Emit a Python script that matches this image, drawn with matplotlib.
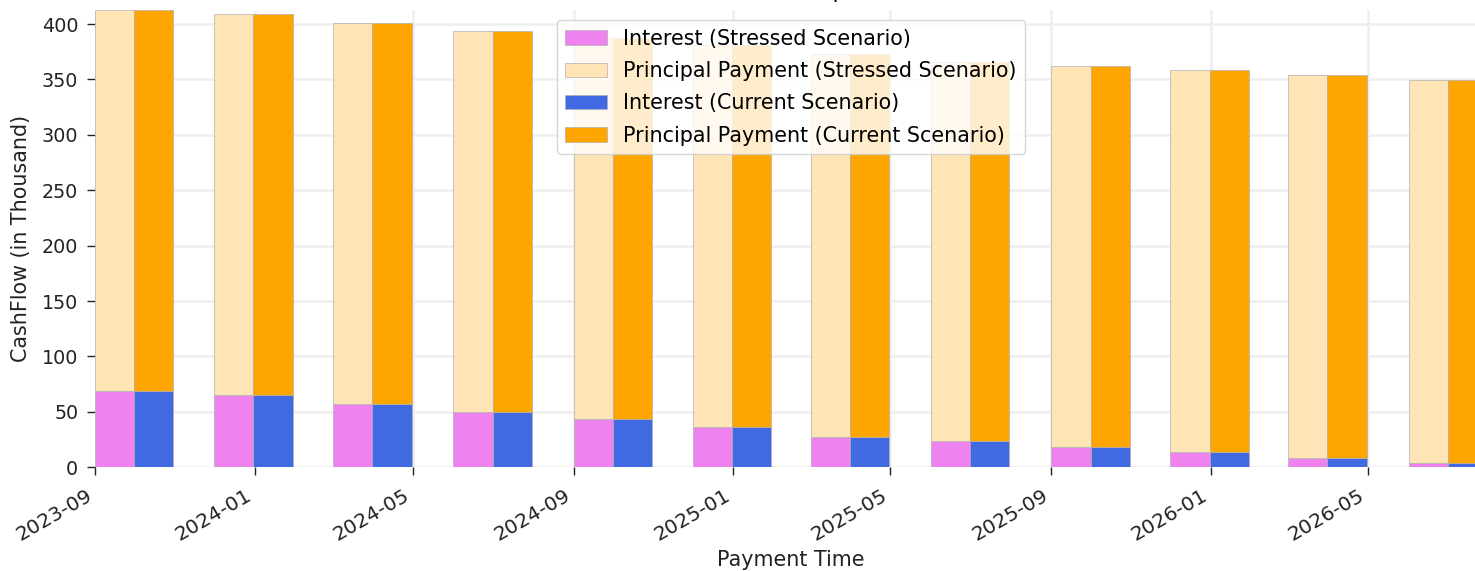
import matplotlib
matplotlib.use("Agg")
import matplotlib.pyplot as plt
import matplotlib.dates as mdates
import pandas as pd
import numpy as np

dates = pd.to_datetime(["2023-09-01", "2023-12-01", "2024-03-01", "2024-06-01",
                        "2024-09-01", "2024-12-01", "2025-03-01", "2025-06-01",
                        "2025-09-01", "2025-12-01", "2026-03-01", "2026-06-01"])
interest_stressed = [68.9, 65.0, 56.9, 49.9, 43.3, 36.4, 27.1, 23.7, 18.3, 13.8, 8.1, 4.2]
principal_stressed = [343.8, 343.8, 343.8, 343.9, 344.2, 344.8, 345.6, 342.3, 343.7, 344.8, 345.7, 345.3]
interest_current = [68.9, 65.0, 56.9, 49.9, 43.3, 36.4, 27.1, 23.7, 18.3, 13.8, 8.1, 4.2]
principal_current = [343.8, 343.8, 343.8, 343.9, 344.2, 344.8, 345.6, 342.3, 343.7, 344.8, 345.7, 345.3]

W, H = 1475, 571
fig = plt.figure(figsize=(W / 100, H / 100), dpi=100)
left_px, right_px, top_px, bottom_px = 95, 1487, 10, 467.3
ax = fig.add_axes([left_px / W, (H - bottom_px) / H, (right_px - left_px) / W, (bottom_px - top_px) / H])

width = pd.Timedelta(days=30)
ec = dict(edgecolor="#b0b0b0", linewidth=0.5)
ax.bar(dates, interest_stressed, width=30, align="edge", color="violet",
       label="Interest (Stressed Scenario)", **ec, zorder=2)
ax.bar(dates, principal_stressed, width=30, align="edge", bottom=interest_stressed,
       color="moccasin", label="Principal Payment (Stressed Scenario)", **ec, zorder=2)
ax.bar(dates + width, interest_current, width=30, align="edge", color="royalblue",
       label="Interest (Current Scenario)", **ec, zorder=2)
ax.bar(dates + width, principal_current, width=30, align="edge", bottom=interest_current,
       color="orange", label="Principal Payment (Current Scenario)", **ec, zorder=2)

ax.set_xlim(dates[0], dates[-1] + 2 * width)
tot = np.array(interest_stressed) + np.array(principal_stressed)
ax.set_ylim(0, tot.max())

ax.xaxis.set_major_locator(mdates.MonthLocator(bymonth=[1, 5, 9]))
ax.xaxis.set_major_formatter(mdates.DateFormatter("%Y-%m"))
ax.set_yticks(np.arange(0, 401, 50))

for s in ax.spines.values():
    s.set_visible(False)
ax.grid(True, color="#eeeeee", linewidth=1.8, zorder=0)
ax.set_axisbelow(True)
ax.tick_params(axis="y", labelsize=13.8, length=5.5, width=1.0, pad=6.5,
               color="#222222", labelcolor="#222222")
ax.tick_params(axis="x", labelsize=14.5, length=5.5, width=1.0, pad=8,
               color="#222222", labelcolor="#222222")
for lbl in ax.get_xticklabels():
    lbl.set_rotation(30)
    lbl.set_ha("right")

ax.set_xlabel("Payment Time", fontsize=14.9, color="#222222", labelpad=4)
ax.set_ylabel("CashFlow (in Thousand)", fontsize=14.9, color="#222222", labelpad=8)
ax.set_title("Cash Flow Comparison", fontsize=15, pad=8.8)

leg = ax.legend(loc="upper center", fontsize=14.9, framealpha=0.8, labelspacing=0.6)

fig.savefig("out.png", dpi=100)
